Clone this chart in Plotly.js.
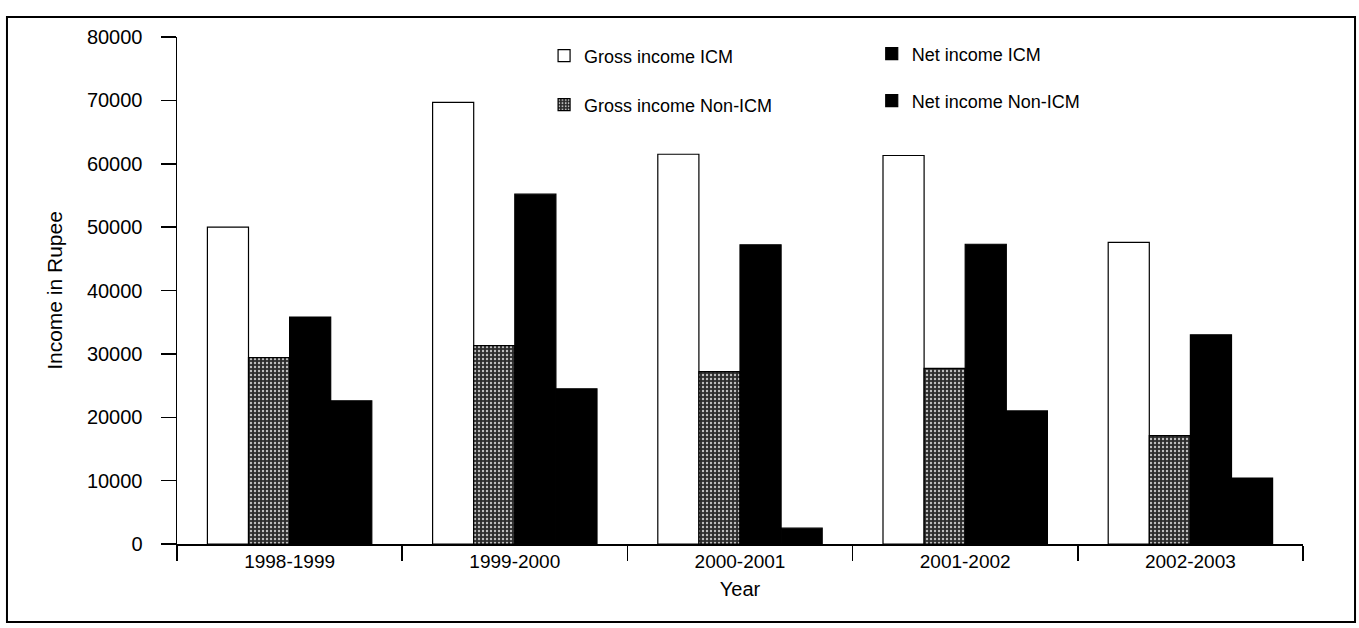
<!DOCTYPE html>
<html>
<head>
<meta charset="utf-8">
<script src="https://cdn.plot.ly/plotly-3.0.1.min.js"></script>
<style>html,body{margin:0;padding:0;background:#fff;}#chart{width:1359px;height:628px;}</style>
</head>
<body>
<div id="chart"></div>
<script>
var years = ["1998-1999", "1999-2000", "2000-2001", "2001-2002", "2002-2003"];
var grossICM = [50000, 69700, 61500, 61300, 47600];
var grossNonICM = [29400, 31300, 27200, 27700, 17100];
var netICM = [35800, 55200, 47200, 47300, 33000];
var netNonICM = [22600, 24500, 2500, 21000, 10400];
var yTicks = [0, 10000, 20000, 30000, 40000, 50000, 60000, 70000, 80000];

var FONT = "Liberation Sans, Arial, sans-serif";

var traces = [
  {type: "bar", name: "Gross income ICM", x: years, y: grossICM, legend: "legend",
   marker: {color: "#ffffff", line: {color: "#000", width: 1.2}}},
  {type: "bar", name: "Gross income Non-ICM", x: years, y: grossNonICM, legend: "legend2",
   marker: {color: "#333333", line: {color: "#000", width: 1.2},
            pattern: {shape: ".", bgcolor: "#2c2c2c", fgcolor: "#c0c0c0", fillmode: "replace", size: 4, solidity: 0.28}}},
  {type: "bar", name: "Net income ICM", x: years, y: netICM, legend: "legend3",
   marker: {color: "#000000", line: {color: "#000", width: 1.2}}},
  {type: "bar", name: "Net income Non-ICM", x: years, y: netNonICM, legend: "legend4",
   marker: {color: "#000000", line: {color: "#000", width: 1.2}}}
];

function leg(x, y) {
  return {x: x, y: y, xanchor: "left", yanchor: "middle", bgcolor: "rgba(0,0,0,0)",
          font: {family: FONT, size: 18, color: "#000"}};
}

var layout = {
  width: 1359, height: 628,
  margin: {l: 177, r: 56, t: 37, b: 84},
  paper_bgcolor: "#fff", plot_bgcolor: "#fff",
  font: {family: FONT, color: "#000"},
  barmode: "group", bargap: 0.27, bargroupgap: 0,
  showlegend: true,
  legend: leg(0.3260, 0.9625),
  legend2: leg(0.3260, 0.8659),
  legend3: leg(0.6170, 0.9665),
  legend4: leg(0.6170, 0.8738),
  xaxis: {
    type: "category", tickson: "boundaries", ticks: "outside", ticklen: 15,
    tickcolor: "#000", tickwidth: 1.5, showline: true, linecolor: "#000", linewidth: 1.5,
    showgrid: false, zeroline: false,
    tickfont: {family: FONT, size: 19, color: "#000"},
    title: {text: "Year", font: {family: FONT, size: 20, color: "#000"}, standoff: 10}
  },
  yaxis: {
    range: [0, 80000], tickvals: yTicks, tickformat: "d", ticks: "outside", ticklen: 15,
    tickcolor: "#000", tickwidth: 1.5, showline: true, linecolor: "#000", linewidth: 1.5,
    showgrid: false, zeroline: false, ticklabelstandoff: 14,
    tickfont: {family: FONT, size: 20, color: "#000"},
    title: {text: "Income in Rupee", font: {family: FONT, size: 21, color: "#000"}, standoff: 18}
  },
  shapes: [
    {type: "rect", xref: "paper", yref: "paper", x0: -0.151, x1: 1.0462, y0: -0.1538, y1: 1.0394,
     line: {color: "#000", width: 2}, fillcolor: "rgba(0,0,0,0)", layer: "below"}
  ]
};

Plotly.newPlot("chart", traces, layout, {displayModeBar: false, staticPlot: true});
</script>
</body>
</html>
